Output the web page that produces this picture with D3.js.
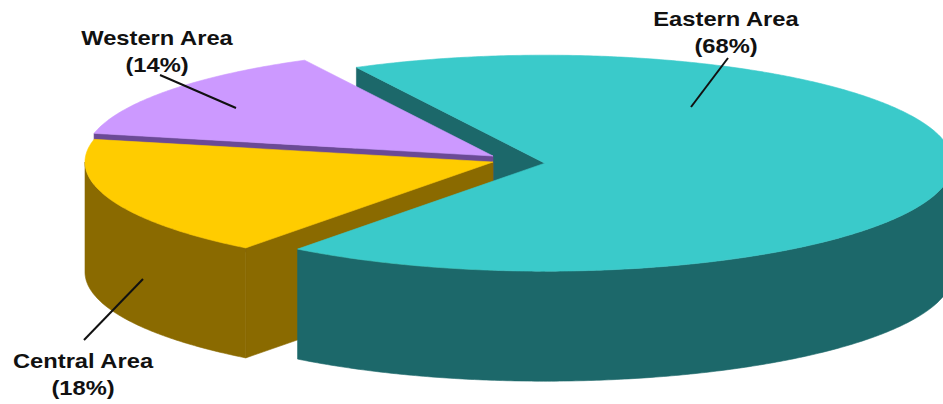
<!DOCTYPE html>
<html><head><meta charset="utf-8">
<script src="https://cdn.jsdelivr.net/npm/d3@7"></script>
<style>html,body{margin:0;padding:0;background:#fff;overflow:hidden}</style>
</head><body><svg id="chart" width="943" height="404"></svg>
<script>
const categories = ["Eastern Area", "Central Area", "Western Area"];
const values = [68, 18, 14];
const percentLabels = ["(68%)", "(18%)", "(14%)"];
const topColors = ["#3ACACA", "#FFCC00", "#CC99FF"];
const sideColors = ["#1C686A", "#8A6A00", "#6B4A96"];

const W = 943, H = 404;
const cx = 493, cy = 162, rx = 408, ry = 108, depth = 110;
const startDeg = 242.5;
const explode = [52, 0, 0];
const lift = [0, 0, 6];
const labelPos = [{x: 726, y: 26}, {x: 83, y: 368}, {x: 157, y: 45}];
const leaders = [[[728, 58], [691, 107]], [[84, 340], [143, 279]], [[160, 75], [236, 108]]];

const svg = d3.select("#chart");
const s0 = startDeg * Math.PI / 180;
const pie = d3.pie().sort(null).value(d => d).startAngle(s0).endAngle(s0 + 2 * Math.PI);
const arcs = pie(values);

const slices = arcs.map((a, i) => {
  const mid = (a.startAngle + a.endAngle) / 2;
  return {i, a0: a.startAngle, a1: a.endAngle,
    ox: explode[i] * Math.cos(mid),
    oy: explode[i] * Math.sin(mid) * ry / rx - lift[i]};
});
const line = d3.line();
function P(s, t, dz) { return [cx + s.ox + rx * Math.cos(t), cy + s.oy + ry * Math.sin(t) + dz]; }
function arcPts(s, t0, t1, dz) {
  const n = Math.max(2, Math.ceil(Math.abs(t1 - t0) / 0.01)); const out = [];
  for (let k = 0; k <= n; k++) out.push(P(s, t0 + (t1 - t0) * k / n, dz));
  return out;
}
function apex(s, dz) { return [cx + s.ox, cy + s.oy + dz]; }
function topPath(s) { return line([apex(s, 0), ...arcPts(s, s.a0, s.a1, 0)]) + "Z"; }
function radialPath(s, t) { return line([apex(s, 0), P(s, t, 0), P(s, t, depth), apex(s, depth)]) + "Z"; }
function sidePaths(s) {
  const res = []; const TWO = 2 * Math.PI;
  for (let k = -1; k <= 3; k++) {
    const lo = Math.max(s.a0, k * TWO), hi = Math.min(s.a1, k * TWO + Math.PI);
    if (hi > lo) res.push(line([...arcPts(s, lo, hi, 0), ...arcPts(s, hi, lo, depth)]) + "Z");
  }
  return res;
}
const g = svg.append("g");
function fillPath(d, c) { g.append("path").attr("d", d).attr("fill", c).attr("stroke", c).attr("stroke-width", 0.6).attr("stroke-linejoin", "round"); }
function drawRadials(s) {
  if (Math.cos(s.a0) < 0) fillPath(radialPath(s, s.a0), sideColors[s.i]);
  if (Math.cos(s.a1) > 0) fillPath(radialPath(s, s.a1), sideColors[s.i]);
}
function drawSides(s) { sidePaths(s).forEach(d => fillPath(d, sideColors[s.i])); }
function drawTop(s) { fillPath(topPath(s), topColors[s.i]); }

const E = slices[0], C = slices[1], Wt = slices[2];
drawRadials(E);
drawRadials(Wt); drawSides(Wt); drawTop(Wt);
drawRadials(C); drawSides(C); drawTop(C);
drawSides(E); drawTop(E);

// leader lines
leaders.forEach(l => {
  svg.append("path").attr("d", line(l)).attr("stroke", "#111").attr("stroke-width", 2).attr("fill", "none");
});
// labels
categories.forEach((c, i) => {
  const t = svg.append("g").attr("transform", `translate(${labelPos[i].x},${labelPos[i].y}) scale(1.13,1)`);
  [c, percentLabels[i]].forEach((txt, j) => {
    t.append("text").attr("x", 0).attr("y", j * 27).attr("text-anchor", "middle")
      .attr("font-family", "'Liberation Sans', Arial, sans-serif").attr("font-weight", "bold")
      .attr("font-size", 21).attr("fill", "#111").text(txt);
  });
});
</script></body></html>
